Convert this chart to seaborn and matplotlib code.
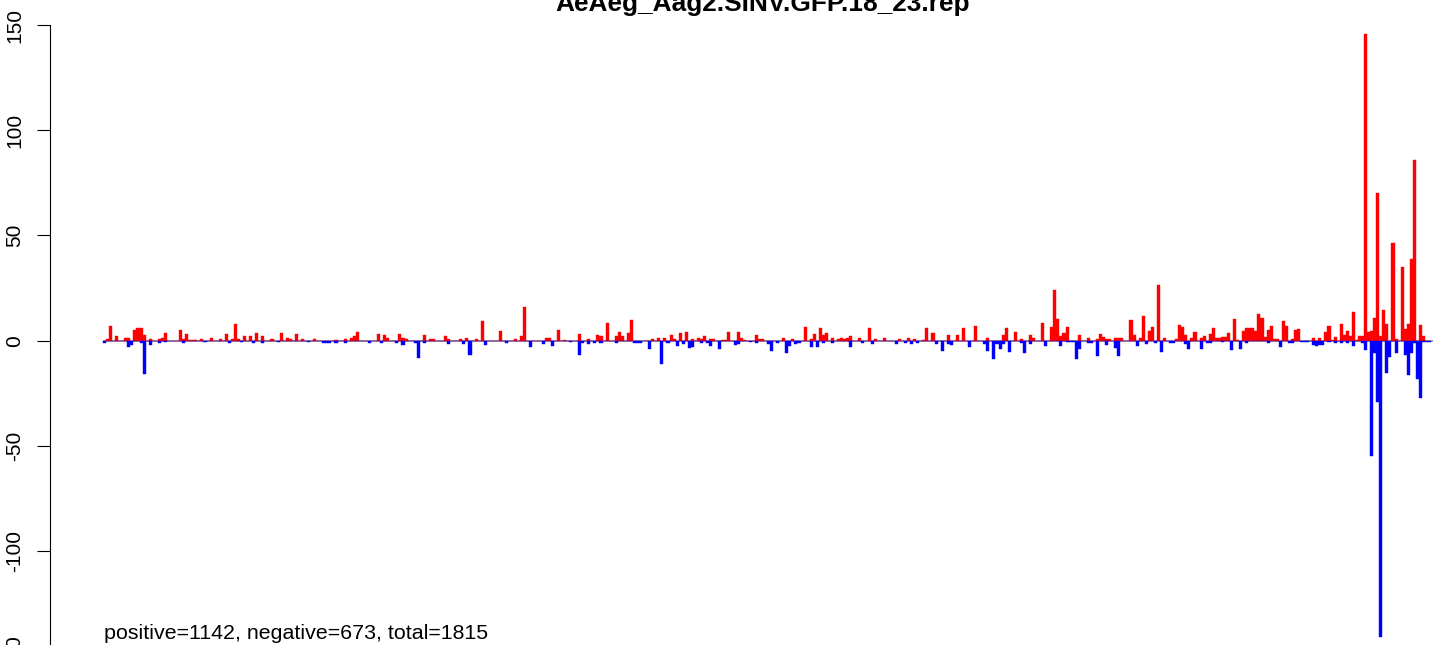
import numpy as np
import pandas as pd
import matplotlib
matplotlib.use('Agg')
import matplotlib.pyplot as plt
import seaborn as sns

title = 'AeAeg_Aag2.SINV.GFP.18_23.rep'
note = 'positive=1142, negative=673, total=1815'
yticks = [-150, -100, -50, 0, 50, 100, 150]

# read counts per bin, sense strand (red)
pos = [0, 1, 7, 0, 2, 0, 0, 1.5, 1.5, 0, 5, 6, 6, 2.5, 0, 0.6, 0, 0, 1, 1.5,
       3.5, 0, 0, 0, 0, 5, 1, 3, 0.5, 0.5, 0.5, 0, 1, 0, 0, 1.5, 0, 0, 1, 0,
       3, 0, 1, 7.7, 1, 0, 2, 0, 2, 0, 3.5, 0, 2, 0, 0, 1, 0, 0, 3.5, 0,
       1.5, 1, 0, 3, 0, 1, 0, 0, 0, 1, 0, 0, 0, 0, 0, 0, 0.5, 0, 0, 1,
       0, 1.3, 2, 4, 0, 0, 0, 0, 0, 0, 3, 0, 2.5, 1.3, 0, 0, 0, 3, 1.3, 1,
       0, 0, 0, 0, 0, 2.5, 0, 1, 1, 0, 0, 0, 2, 1, 0, 0, 0, 1, 0, 1.3,
       0, 0, 1, 0, 9.5, 0, 0, 0, 0, 0, 4.6, 0, 0, 0, 0, 1, 0, 2, 16, 0,
       0, 0, 0, 0, 0, 1.3, 1.3, 0, 0, 5, 0, 0.5, 0, 0, 0, 0, 3, 0, 0, 1,
       0, 0, 2.5, 2, 0, 8.5, 0, 0, 2, 4, 2, 0, 3.5, 10, 0, 0, 0, 0, 0, 0,
       1, 0, 1.3, 0, 1.3, 0, 2.5, 1, 0, 3.5, 0, 4, 0, 1, 0, 1.3, 1, 2, 0, 1,
       1, 0, 0, 0.5, 0.5, 4, 0, 0, 4, 1.3, 0.5, 0, 0, 0, 2.5, 1, 1, 0, 0, 0,
       0, 0, 0, 1.3, 0, 0, 1, 0, 0, 0, 6.5, 0, 1, 3, 0, 6, 2.5, 3.5, 0, 1.5,
       0, 1, 1.5, 1, 1.5, 2, 0, 0, 1.5, 0, 0, 6.2, 0, 1, 0, 0, 1.5, 0, 0, 0,
       0, 1, 0, 0, 1.5, 0, 1, 0, 0, 0.5, 6, 0, 3.5, 0, 0, 0, 0, 2.5, 0, 0,
       2.5, 0, 6.2, 0, 0, 0, 7.2, 0, 0, 0, 1.5, 0, 0, 0, 0, 2.5, 6.2, 0, 0, 4,
       0, 0.8, 0, 0, 2.5, 1.5, 0, 0, 8.6, 0, 0, 6.7, 24, 10.5, 2.2, 3.7, 6.6, 0, 0, 0,
       2.7, 0, 0, 1.3, 0, 0, 1, 3.2, 1.8, 1, 1, 0, 1.3, 1.3, 1.3, 0, 0, 10, 2.7, 0,
       1.3, 11.9, 0, 4.6, 6.6, 0, 26.3, 0, 1.3, 0, 0, 0, 1, 7.5, 6.6, 2.7, 0, 1.3, 4.2, 0,
       1.3, 2.2, 0, 3.2, 6, 1.3, 1.3, 1.8, 1.8, 3.7, 0, 10.4, 0.5, 0, 4.6, 6, 6, 6, 4.6, 12.8,
       10.9, 1.8, 5, 7, 1, 1, 0, 9.5, 7, 0, 1, 5, 5.6, 0, 0, 0, 0, 1.3, 0, 1.3,
       0, 4.2, 7, 0.5, 1.8, 0, 8, 2.7, 4.6, 2.2, 13.8, 0.5, 2.2, 2.2, 146, 4.2, 4.6, 10.9, 70, 2,
       14.7, 8, 0, 46.6, 0.8, 0, 35, 5.6, 8, 39, 86, 0, 7.5, 2.2, 0, 0]

# antisense strand (blue)
neg = [-1, 0, 0, 0, 0, 0, 0, 0, -3, -2, 0, 0, -1, -16, 0, -2, 0, 0, -1, 0,
       -0.5, 0, 0, 0, 0, 0, -1, 0, 0, 0, 0, 0, 0, -0.5, 0, 0, 0, 0, 0, 0,
       0, -1.3, 0, 0, 0, -0.5, 0, 0, 0, -1, 0, 0, -1, 0, 0, 0, 0, -0.5, 0, 0,
       0, 0, 0, 0, 0, 0, 0, -0.5, 0, 0, 0, 0, -1, -1, -1, 0, -1, 0, 0, -1,
       0, 0, 0, 0, 0, 0, 0, -1, 0, 0, 0, -1, 0, 0, 0, 0, -1, 0, -2, 0,
       0, 0, -1, -8, 0, -1, 0, 0, 0, 0, 0, 0, 0, -1.5, 0, 0, 0, 0, -1.5, 0,
       -7, 0, 0, 0, 0, -2, 0, 0, 0, 0, 0, 0, -1, 0, 0, 0, 0, 0, 0, 0,
       -3, 0, 0, 0, -1.5, 0, 0, -2.5, 0, 0, 0, 0, 0, -0.5, 0, 0, -7, -1, 0, -1.5,
       0, -1, 0, -1, 0, 0, 0, 0, -1, 0, 0, 0, 0, 0, -1, -1, -1, 0, 0, -4,
       0, 0, 0, -11, 0, -1, 0, 0, -2.5, 0, -1.5, 0, -3.5, -3, 0, 0, -1, 0, -1, -2.5,
       0, 0, -4, 0, 0, 0, 0, -2, -1.5, 0, 0, 0, -0.5, 0, -1, 0, 0, 0, -1.5, -5,
       0, -1, 0, 0, -6, -2.5, 0, -1.5, -1, 0, 0, 0, -3, 0, -3, 0, -1, 0, 0, -1,
       0, 0, 0, 0, 0, -3, 0, 0, 0, -1, 0, 0, -1.5, 0, 0, 0, 0, 0, 0, 0,
       -1.5, 0, 0, -1, 0, -1.5, 0, -1, 0, 0, 0, 0, 0, -1.5, 0, -4.7, 0, -1.5, -2.2, 0,
       0, 0, 0, 0, -3.2, 0, 0, 0, 0, -1.8, -4.7, 0, -8.5, -1.5, -4, -1.8, 0, -5.6, 0, 0,
       0, -1.3, -6, 0, -1.8, 0, 0, 0, 0, -2.3, 0, 0, 0, 0, -2.4, 0, -0.8, -0.8, -0.8, -8.7,
       -3.8, 0, 0, -1, -1, 0, -7.2, 0, 0, -1.9, 0, 0, -3.4, -7.2, 0, 0, 0, 0, 0, -2.4,
       0, 0, -1.4, 0, 0, -1, 0, -5.3, 0, 0, -1, -1, 0, 0, 0, -1.4, -3.8, 0, 0, 0,
       -3.8, 0, -1, -1, 0, 0, 0, -0.5, 0, 0, -4.3, 0, 0, -3.8, 0, -1, 0, 0, 0, 0,
       0, 0, -1, 0, 0, 0, -2.9, 0, 0, -1, -1, 0, 0, -0.5, -0.5, -0.5, 0, -2, -2.4, -2,
       -2, 0, -0.8, 0, -1, 0, -1, 0, -1, 0, -2.4, 0, 0, -1, -4.3, 0, -55, -5.8, -29, -141,
       0, -15.4, -7.7, 0, -5.8, 0, 0, -6.7, -16.3, -5.8, -1, -18.3, -27.4, -0.5, -0.5, -0.5]

df = pd.DataFrame({'bin': np.arange(len(pos)), 'pos': pos, 'neg': neg})

sns.set_style('white')
plt.rcParams['font.family'] = ['Liberation Sans', 'DejaVu Sans']
plt.rcParams['axes.unicode_minus'] = False
plt.rcParams['text.color'] = 'black'
plt.rcParams['ytick.color'] = 'black'
plt.rcParams['ytick.labelcolor'] = 'black'

fig = plt.figure(figsize=(14.44, 6.45), dpi=100)
ax = fig.add_axes([0.0346, -0.0501, 0.9654, 1.0438])

# zero line under the bars
ax.hlines(0, -0.5, len(pos) + 0.3, color='#a0a0a0', lw=1.3, zorder=0)

sns.barplot(data=df, x='bin', y='pos', color='#ff0000', saturation=1, width=1,
            errorbar=None, linewidth=0.3, edgecolor='#ff0000', ax=ax)
sns.barplot(data=df, x='bin', y='neg', color='#0000ff', saturation=1, width=1,
            errorbar=None, linewidth=0.3, edgecolor='#0000ff', ax=ax)

ax.set_xlim(-17.9, 439.75)
ax.set_ylim(-160, 160)
ax.set_xticks([])
ax.set_xlabel('')
ax.set_ylabel('')
for s in ['top', 'right', 'bottom']:
    ax.spines[s].set_visible(False)
ax.spines['left'].set_bounds(-150, 150)
ax.spines['left'].set_linewidth(0.8)
ax.spines['left'].set_color('black')
ax.set_yticks(yticks)
ax.set_yticklabels([str(t) for t in yticks], rotation=90, va='center',
                   fontsize=15, color='black')
ax.tick_params(axis='y', direction='out', length=9.4, width=0.8, color='black', pad=9, left=True)
ax.grid(False)

ax.text(-0.2, -141.8, note, fontsize=15.4, ha='left', va='baseline', color='black')
fig.text(763 / 1444, 1 - 11 / 645, title, ha='center', va='baseline',
         fontsize=18.9, fontweight='bold', color='black')

fig.savefig('out.png', dpi=100)
